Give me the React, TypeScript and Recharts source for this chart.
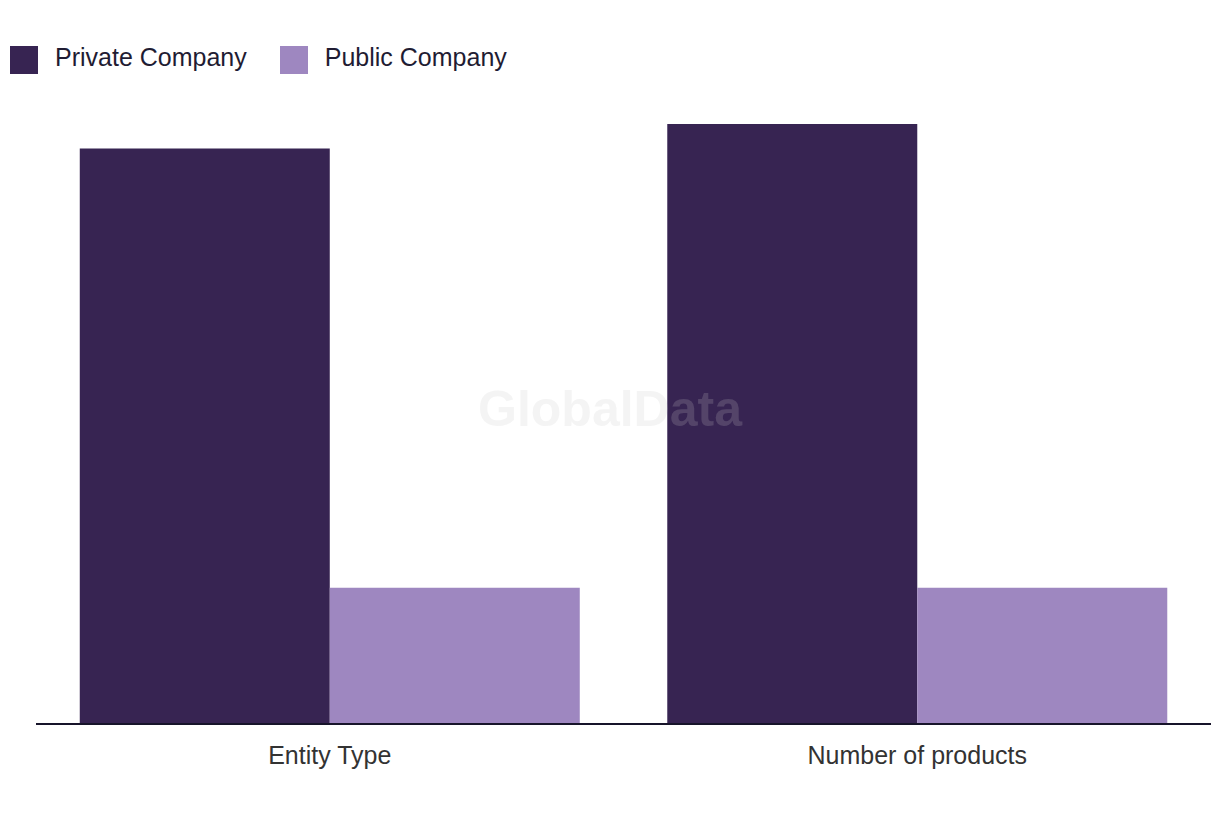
import React from 'react';
import { BarChart, Bar, XAxis, YAxis } from 'recharts';

const categories = ['Entity Type', 'Number of products'];
const privateCompany = [21.1, 22];
const publicCompany = [5, 5];
const seriesNames = ['Private Company', 'Public Company'];
const seriesColors = ['#372452', '#9e87c0'];

const data = categories.map((c, i) => ({
  name: c,
  private: privateCompany[i],
  public: publicCompany[i],
}));

const FONT = '"Liberation Sans", Arial, sans-serif';

export default function App() {
  return (
    <div style={{ position: 'absolute', left: 0, top: 0, width: 1220, height: 820, background: '#fff', fontFamily: FONT }}>
      <div style={{ position: 'absolute', left: 10, top: 46, display: 'flex', alignItems: 'center', height: 28 }}>
        {seriesNames.map((n, i) => (
          <div key={n} style={{ display: 'flex', alignItems: 'center', marginRight: i === 0 ? 33 : 0 }}>
            <div style={{ width: 28, height: 28, background: seriesColors[i], marginRight: 17 }} />
            <span style={{ fontSize: 25, color: '#1f1c33', lineHeight: '28px', position: 'relative', top: -3 }}>{n}</span>
          </div>
        ))}
      </div>
      <BarChart
        width={1220}
        height={820}
        data={data}
        margin={{ top: 124, right: 9, bottom: 36, left: 36 }}
        barGap={0}
        barCategoryGap="7.45%"
      >
        <YAxis hide domain={[0, 22]} />
        <XAxis
          dataKey="name"
          height={60}
          tickLine={false}
          axisLine={{ stroke: '#17142a', strokeWidth: 2 }}
          tickMargin={16}
          tick={{ fontSize: 25, fill: '#333', fontFamily: FONT }}
        />
        <Bar dataKey="private" name={seriesNames[0]} fill={seriesColors[0]} isAnimationActive={false} />
        <Bar dataKey="public" name={seriesNames[1]} fill={seriesColors[1]} isAnimationActive={false} />
      </BarChart>
      <div
        style={{
          position: 'absolute',
          left: 0,
          width: 1220,
          top: 380,
          textAlign: 'center',
          fontSize: 50,
          fontWeight: 'bold',
          color: 'rgba(200,200,200,0.2)',
          pointerEvents: 'none',
          fontFamily: FONT,
        }}
      >
        GlobalData
      </div>
    </div>
  );
}
